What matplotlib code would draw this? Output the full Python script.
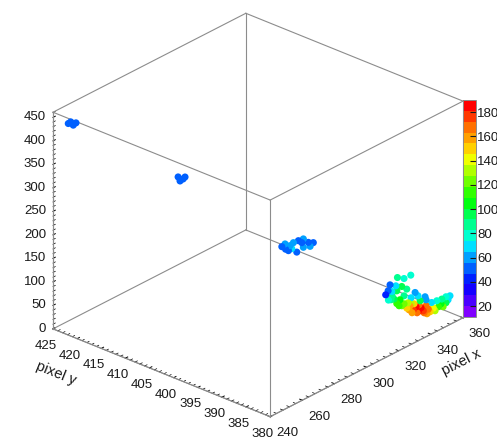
import numpy as np
import matplotlib
matplotlib.use("Agg")
import matplotlib.pyplot as plt
from matplotlib.colors import ListedColormap, Normalize
from matplotlib.ticker import MultipleLocator, NullFormatter
from matplotlib.transforms import IdentityTransform
from mpl_toolkits.mplot3d import proj3d

plt.rcParams["font.family"] = ["Liberation Sans", "DejaVu Sans"]

# Hits: pixel x, pixel y, height and charge (colour)
pix_x = [243.5, 246.6, 248.3, 245.0,
         263.8, 266.9, 265.0, 268.1,
         289.3, 291.3, 293.4, 295.5, 296.5, 298.6, 299.6, 301.7, 302.7, 305.8,
         306.9, 308.9, 302.7, 294.4, 291.6,
         330.5, 326.3, 322.2, 317.6, 321.2, 324.9, 314.9, 318.7, 321.8, 328.0,
         333.2, 316.6, 320.1, 323.8, 321.8, 324.9, 328.0, 332.1, 335.2, 338.3,
         341.4, 344.5, 347.7, 343.5, 346.7, 349.8, 352.4, 330.0, 333.8, 336.9,
         340.0, 334.4, 330.7, 326.3, 336.3, 340.0, 330.7, 342.5, 318.9, 354.9,
         352.4, 350.6,
         328.8, 332.5, 335.6, 338.8, 331.3, 329.4, 340.6, 345.6, 323.2, 318.2,
         349.3, 353.7, 339.4, 335.0, 326.3, 316.4]
pix_y = [423, 423, 423, 423,
         407, 407, 407, 407,
         394, 394, 394, 394, 394, 394, 394, 394, 394, 394,
         394, 394, 394, 394, 394,
         381, 381, 381, 381, 381, 381, 381, 381, 381, 381,
         381, 381, 381, 381, 381, 381, 381, 381, 381, 381,
         381, 381, 381, 381, 381, 381, 381, 381, 381, 381,
         381, 381, 381, 381, 381, 381, 381, 381, 381, 381,
         381, 381,
         381, 381, 381, 381, 381, 381, 381, 381, 381, 381,
         381, 381, 381, 381, 381, 381]
height = [439.1, 430.2, 432.1, 440.0,
          356.3, 346.5, 345.6, 348.6,
          217.2, 219.5, 201.5, 202.1, 213.1, 189.3, 211.9, 204.0, 192.3, 197.4,
          187.0, 191.4, 210.2, 210.4, 207.8,
          138.3, 138.5, 147.8, 140.3, 131.9, 124.0, 123.8, 124.2, 120.2, 113.0,
          96.7, 109.6, 105.6, 97.7, 93.2, 83.0, 72.6, 61.1, 52.8, 48.8,
          46.9, 43.7, 40.9, 57.3, 55.4, 53.5, 53.9, 73.9, 65.2, 57.7,
          56.4, 51.4, 77.1, 84.7, 73.6, 69.2, 89.8, 39.3, 114.7, 51.6,
          41.2, 35.8,
          82.4, 73.9, 66.3, 43.7, 56.9, 66.5, 38.5, 36.1, 86.0, 107.5,
          44.4, 45.2, 76.7, 86.5, 101.7, 129.7]
charge = [50, 48, 52, 49,
          50, 52, 48, 54,
          52, 58, 50, 72, 60, 50, 55, 52, 62, 50,
          58, 52, 57, 64, 50,
          75, 80, 88, 50, 68, 92, 45, 65, 95, 85,
          62, 78, 100, 105, 110, 125, 150, 175, 183, 178,
          165, 140, 110, 70, 75, 85, 80, 160, 185, 182,
          170, 172, 135, 120, 95, 60, 70, 150, 90, 65,
          100, 125,
          130, 150, 165, 170, 160, 155, 160, 130, 115, 85,
          105, 70, 60, 65, 90, 55]

x_range = (240, 360)
y_range = (380, 425)
z_range = (0, 461)
c_range = (11, 190)
x_ticks = list(range(240, 361, 20))
y_ticks = list(range(380, 426, 5))
z_ticks = list(range(0, 451, 50))
c_ticks = list(range(20, 181, 20))

palette = ["#8000ff", "#4a00ff", "#1400ff", "#0020ff", "#0060ff",
           "#00a0ff", "#00e0ff", "#00ffd0", "#00ff90", "#00ff50",
           "#00ff10", "#30ff00", "#70ff00", "#b0ff00", "#f0ff00",
           "#ffd000", "#ffa000", "#ff7000", "#ff3800", "#ff0000"]
cmap = ListedColormap(palette)
norm = Normalize(*c_range)

box_col = "#8c8c8c"
txt_col = "#1a1a1a"
fs = 9.5

fig = plt.figure(figsize=(4.97, 4.38), dpi=100)
W, H = fig.bbox.width, fig.bbox.height
ax = fig.add_axes([0, 0, 1, 1], projection="3d", proj_type="ortho",
                  computed_zorder=False)
ax.view_init(elev=27.1, azim=-138.4)
ax.set_box_aspect((1, 1, 0.838))
ax.set_xlim(*x_range)
ax.set_ylim(*y_range)
ax.set_zlim(*z_range)

# wire frame box
for y0 in y_range:
    for z0 in z_range:
        ax.plot(x_range, [y0, y0], [z0, z0], color=box_col, lw=0.8, zorder=1)
for x0 in x_range:
    for z0 in z_range:
        ax.plot([x0, x0], y_range, [z0, z0], color=box_col, lw=0.8, zorder=1)
for x0 in x_range:
    for y0 in y_range:
        ax.plot([x0, x0], [y0, y0], z_range, color=box_col, lw=0.8, zorder=1)

sc = ax.scatter(pix_x, pix_y, height, c=charge, cmap=cmap, norm=norm,
                s=26, marker="o", edgecolors="none", depthshade=False, zorder=3)

ax.grid(False)
for axis in (ax.xaxis, ax.yaxis, ax.zaxis):
    axis.set_pane_color((1, 1, 1, 0))
    axis.pane.set_edgecolor("none")
    axis.line.set_color(box_col)
    axis.line.set_linewidth(0.8)
    axis._axinfo["tick"]["inward_factor"] = 0.0
    axis._axinfo["tick"]["outward_factor"] = 0.15
    axis._axinfo["tick"]["linewidth"] = {True: 0.7, False: 0.5}
    axis._axinfo["tick"]["color"] = box_col
    axis.set_major_formatter(NullFormatter())

ax.set_xticks(x_ticks)
ax.set_yticks(y_ticks)
ax.set_zticks(z_ticks)
ax.xaxis.set_minor_locator(MultipleLocator(4))
ax.yaxis.set_minor_locator(MultipleLocator(1))
ax.zaxis.set_minor_locator(MultipleLocator(10))


def to_pixels(xs, ys, zs):
    px, py, _ = proj3d.proj_transform(np.asarray(xs, float), np.asarray(ys, float),
                                      np.asarray(zs, float), ax.get_proj())
    return ax.transData.transform(np.column_stack([px, py]))


# fit the box onto the area used in the original picture
fig.canvas.draw()
corners = np.array([(a, b, c) for a in x_range for b in y_range for c in z_range])
pts = to_pixels(corners[:, 0], corners[:, 1], corners[:, 2])
pos = ax.get_position()
s = (463 - 53) / (pts[:, 0].max() - pts[:, 0].min())
new_w = pos.width * W * s
new_x0 = 53 - (pts[:, 0].min() - pos.x0 * W) * s
new_y0 = (H - 215) - ((pts[:, 1].min() + pts[:, 1].max()) / 2 - pos.y0 * H) * s
ax.set_position([new_x0 / W, new_y0 / H, new_w / W, new_w / H])
fig.canvas.draw()

# tick labels placed the way ROOT does it
n = len(x_ticks)
for (px, py), v in zip(to_pixels(x_ticks, [y_range[0]] * n, [z_range[0]] * n), x_ticks):
    fig.text(px + 17, py - 16.5, str(v), transform=IdentityTransform(),
             ha="center", va="center", fontsize=fs, color=txt_col)
n = len(y_ticks)
for (px, py), v in zip(to_pixels([x_range[0]] * n, y_ticks, [z_range[0]] * n), y_ticks):
    fig.text(px - 7.5, py - 17, str(v), transform=IdentityTransform(),
             ha="center", va="center", fontsize=fs, color=txt_col)
n = len(z_ticks)
for (px, py), v in zip(to_pixels([x_range[0]] * n, [y_range[1]] * n, z_ticks), z_ticks):
    fig.text(px - 7, py, str(v), transform=IdentityTransform(),
             ha="right", va="center", fontsize=fs, color=txt_col)

fig.text(56 / W, 1 - 373 / H, "pixel y", rotation=-22, fontsize=10.5,
         color=txt_col, ha="center", va="center")
fig.text(461 / W, 1 - 362 / H, "pixel x", rotation=27, fontsize=10.5,
         color=txt_col, ha="center", va="center")

cax = fig.add_axes([463 / W, 1 - 317 / H, 13 / W, 217 / H])
cb = fig.colorbar(sc, cax=cax)
cb.set_ticks(c_ticks)
cb.ax.tick_params(labelsize=fs, colors=txt_col, direction="in", length=4,
                  width=0.8, pad=1)
cb.outline.set_edgecolor(box_col)
cb.outline.set_linewidth(0.7)

fig.savefig("out.png", dpi=100)
